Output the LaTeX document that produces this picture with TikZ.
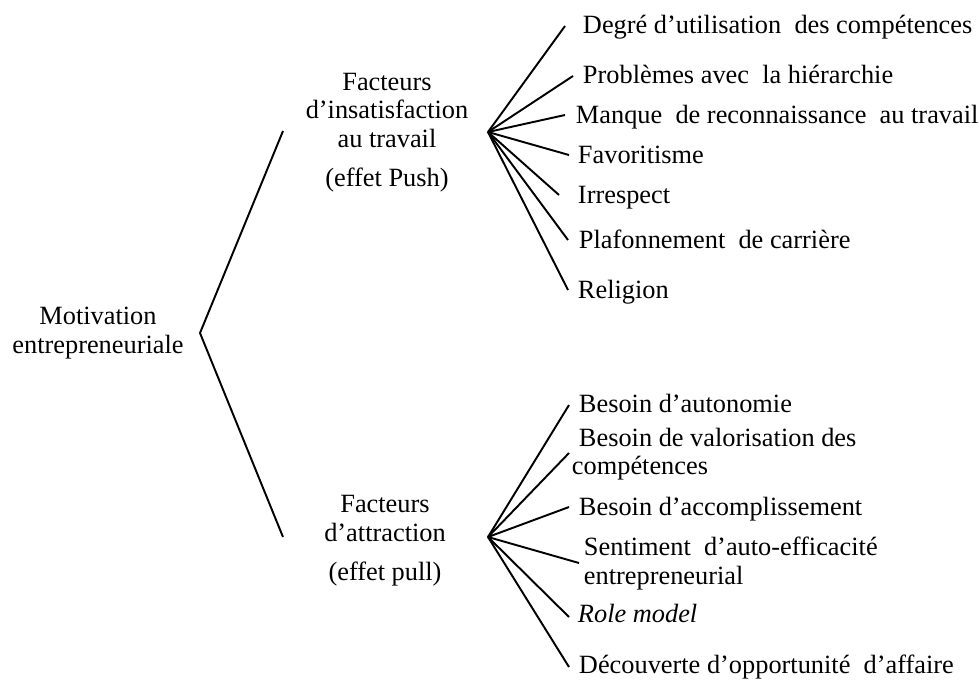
\documentclass[tikz,border=0pt]{standalone}
\usepackage{fontspec}
\setmainfont{Liberation Serif}
\usetikzlibrary{positioning}

\begin{document}
\begin{tikzpicture}[x=0.02cm,y=-0.02cm,line width=1.1pt,
  leaf/.style={anchor=base west,inner sep=0pt,align=left,font=\fontsize{15}{16.2}\selectfont},
  group/.style={anchor=base,inner sep=0pt,align=center,font=\fontsize{15}{16.2}\selectfont}]

\useasboundingbox (0,0) rectangle (979,680);

% root and the two groups (base = last line)
\node[group] (motiv) at (98,353) {Motivation\\entrepreneuriale};
\node[group] (push) at (387,186) {Facteurs\\d’insatisfaction\\au travail\\[6pt](effet Push)};
\node[group] (pull) at (385,580) {Facteurs\\d’attraction\\[6pt](effet pull)};

\coordinate (rv) at (200,333);
\coordinate (rt) at (283,131);
\coordinate (rb) at (283,537);
\draw (rt) -- (rv) -- (rb);

% push factors
\node[leaf] (push1) at (582,33) {Degré d’utilisation\ \ des compétences};
\node[leaf] (push2) at (582,83) {Problèmes avec\ \ la hiérarchie};
\node[leaf] (push3) at (575,123) {Manque\ \ de reconnaissance\ \ au travail};
\node[leaf] (push4) at (577,163) {Favoritisme};
\node[leaf] (push5) at (577,203) {Irrespect};
\node[leaf] (push6) at (578,248) {Plafonnement\ \ de carrière};
\node[leaf] (push7) at (577,298) {Religion};

\coordinate (pv) at (488,132);
\coordinate (pe1) at (565,26);
\coordinate (pe2) at (573,76);
\coordinate (pe3) at (565,115);
\coordinate (pe4) at (569,155);
\coordinate (pe5) at (559,195);
\coordinate (pe6) at (568,240);
\coordinate (pe7) at (568,290);
\foreach \i in {1,...,7}
  \draw (pv) -- (pe\i);

% pull factors
\node[leaf] (pull1) at (578,412) {Besoin d’autonomie};
\node[leaf] (pull2) at (578,474) {Besoin de valorisation des\\[-0.5pt]\hspace*{-4pt}compétences};
\node[leaf] (pull3) at (578,515) {Besoin d’accomplissement};
\node[leaf] (pull4) at (583,584) {Sentiment\ \ d’auto-efficacité\\entrepreneurial};
\node[leaf] (pull5) at (577,622) {\textit{Role model}};
\node[leaf] (pull6) at (578,673) {Découverte d’opportunité\ \ d’affaire};

\coordinate (qv) at (488,537);
\coordinate (qe1) at (569,405);
\coordinate (qe2) at (569,453);
\coordinate (qe3) at (569,507);
\coordinate (qe4) at (579,563);
\coordinate (qe5) at (569,617);
\coordinate (qe6) at (569,667);
\foreach \i in {1,...,6}
  \draw (qv) -- (qe\i);

\end{tikzpicture}
\end{document}
